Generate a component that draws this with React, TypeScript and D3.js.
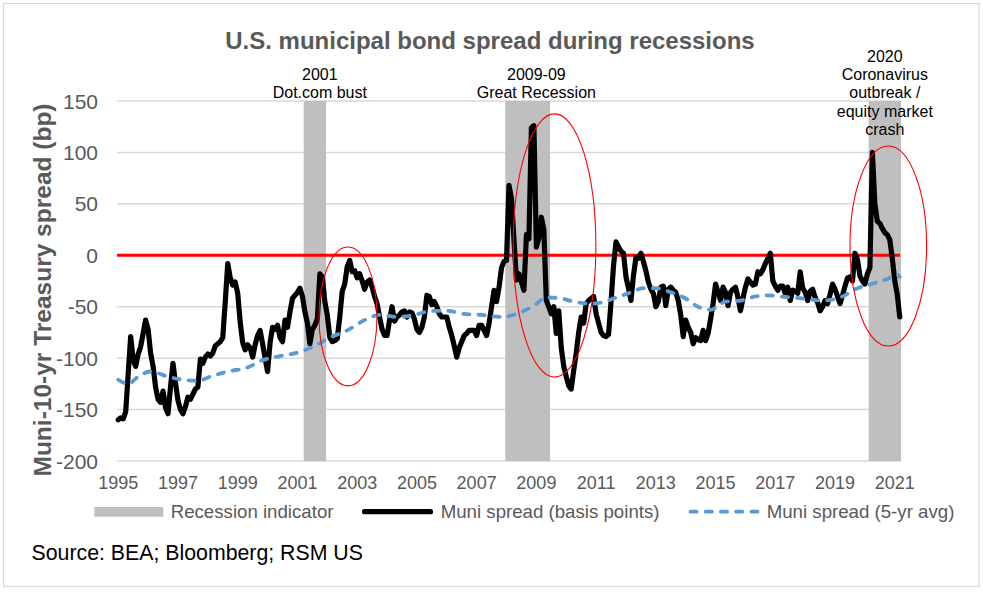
import React from 'react';
import * as d3 from 'd3';

// Monthly muni-10yr Treasury spread (bp), starting Jan 1995
const START_YEAR = 1995;
const spreadBp = [
  -160, -158, -159, -152, -115, -79, -102, -108, -96, -89, -76, -63, // 1995
  -72, -95, -108, -128, -140, -143, -132, -148, -154, -128, -105, -124, // 1996
  -141, -150, -154, -147, -138, -140, -135, -130, -128, -101, -105, -99, // 1997
  -96, -98, -95, -88, -86, -84, -80, -45, -8, -22, -29, -26, // 1998
  -37, -65, -85, -92, -87, -90, -99, -87, -78, -73, -86, -100, // 1999
  -113, -85, -70, -72, -68, -80, -84, -63, -70, -55, -42, -39, // 2000
  -36, -32, -40, -55, -66, -86, -72, -68, -62, -18, -21, -45, // 2001
  -58, -80, -84, -83, -81, -60, -35, -28, -11, -5, -16, -15, // 2002
  -22, -18, -25, -33, -26, -24, -31, -40, -47, -60, -72, -78, // 2003
  -78, -63, -50, -64, -60, -58, -55, -54, -60, -55, -56, -62, // 2004
  -72, -75, -70, -60, -39, -40, -48, -45, -50, -57, -60, -60, // 2005
  -60, -70, -78, -88, -99, -90, -84, -78, -76, -73, -73, -73, // 2006
  -78, -68, -68, -73, -78, -66, -50, -34, -45, -31, -12, -6, // 2007
  -5, 68, 55, 15, -24, -18, -26, -34, 20, 16, 124, 126, // 2008
  8, 17, 37, 25, -44, -50, -57, -50, -76, -54, -90, -108, // 2009
  -118, -127, -130, -112, -95, -75, -60, -66, -47, -44, -42, -40, // 2010
  -57, -66, -75, -78, -79, -77, -45, -10, 13, 8, 4, 2, // 2011
  -21, -32, -44, -20, -2, -3, 2, -6, -15, -26, -33, -37, // 2012
  -50, -45, -31, -30, -49, -33, -31, -34, -36, -44, -58, -79, // 2013
  -63, -70, -75, -86, -80, -82, -83, -73, -83, -76, -62, -47, // 2014
  -28, -36, -44, -31, -36, -49, -36, -33, -31, -41, -54, -42, // 2015
  -31, -23, -26, -29, -28, -16, -18, -14, -8, -3, 2, -25, // 2016
  -30, -34, -30, -30, -37, -31, -44, -34, -35, -37, -16, -32, // 2017
  -36, -44, -35, -33, -41, -46, -54, -50, -44, -47, -38, -28, // 2018
  -33, -40, -47, -39, -30, -22, -21, -25, 2, -4, -20, -25, // 2019
  -28, -18, -12, 100, 50, 33, 31, 26, 22, 20, 15, -3, // 2020
  -25, -38, -60, // 2021
];

// 5-yr average (months since Jan 1995, value in bp)
const avgMonth = [0, 4, 8, 13, 20, 26, 32, 37, 44, 52, 58, 65, 73, 79, 85, 92, 99, 105, 112, 119, 126, 132, 139, 146, 154, 162, 167, 172, 178, 183, 190, 194, 199, 206, 211, 216, 222, 228, 233, 238, 244, 250, 256, 261, 266, 271, 275, 283, 291, 297, 304, 309, 313, 314];
const avgBp = [-121, -125, -118, -113, -118, -121, -122, -118, -113, -109, -102, -98, -94, -88, -80, -73, -63, -58, -60, -58, -54, -54, -57, -58, -60, -55, -49, -41, -42, -45, -47, -46, -42, -36, -32, -32, -36, -42, -50, -53, -45, -44, -40, -39, -40, -41, -42, -44, -40, -32, -27, -23, -19, -21];

const recessionStart = ['2001-04', '2008-01', '2020-03'];
const recessionEnd = ['2001-12', '2009-06', '2021-03'];
const recessionTop = 150;

const yTicks = [150, 100, 50, 0, -50, -100, -150, -200];
const xTickYears = [1995, 1997, 1999, 2001, 2003, 2005, 2007, 2009, 2011, 2013, 2015, 2017, 2019, 2021];

const annotationAt = ['2001-10', '2009-01', '2020-09'];
const annotationLines = [
  ['2001', 'Dot.com bust'],
  ['2009-09', 'Great Recession'],
  ['2020', 'Coronavirus', 'outbreak /', 'equity market', 'crash'],
];
const annotationFirstBaseline = [80, 80, 61.7];

// highlight ellipses: centre (month, bp), radii (months, bp)
const ellipseCx = [92.3, 175.3, 309.4];
const ellipseCy = [-59.5, 9.5, 9];
const ellipseRx = [11.65, 16.6, 15.4];
const ellipseRy = [67.5, 128, 97.2];

const legendLabels = ['Recession indicator', 'Muni spread (basis points)', 'Muni spread (5-yr avg)'];

const monthIndex = (s: string) => {
  const [yy, mm] = s.split('-').map(Number);
  return (yy - START_YEAR) * 12 + (mm - 1);
};

const W = 983;
const H = 593;
const FONT = '"Liberation Sans", Arial, sans-serif';
const GREY_TEXT = '#595959';
const LINE_W = 5.2;
const AVG_W = 3.8;
const AVG_DASH = '6.2 9';

export default function App() {
  const n = spreadBp.length;
  const x = d3.scaleLinear().domain([-0.5, n - 0.5]).range([117, 901]);
  const y = d3.scaleLinear().domain([-200, 150]).range([461, 101]);

  const spreadPts = spreadBp.map((v, i) => [i, v] as [number, number]);
  const avgPts = avgMonth.map((m, i) => [m, avgBp[i]] as [number, number]);

  const lineGen = d3
    .line<[number, number]>()
    .x((d) => x(d[0]))
    .y((d) => y(d[1]));
  const avgGen = d3
    .line<[number, number]>()
    .x((d) => x(d[0]))
    .y((d) => y(d[1]))
    .curve(d3.curveMonotoneX);

  const [x0, x1] = x.range();

  return (
    <svg
      width={W}
      height={H}
      style={{ position: 'absolute', left: 0, top: 0, background: '#fff' }}
      fontFamily={FONT}
    >
      <rect x={0} y={0} width={W} height={H} fill="#fff" />
      <rect x={3.5} y={3.5} width={975.5} height={583} fill="none" stroke="#d9d9d9" strokeWidth={1.2} />

      {/* title */}
      <text x={490} y={48.5} textAnchor="middle" fontSize={24} fontWeight="bold" fill={GREY_TEXT}>
        U.S. municipal bond spread during recessions
      </text>

      {/* gridlines */}
      {yTicks.map((t) => (
        <line key={'g' + t} x1={x0} x2={x1} y1={y(t)} y2={y(t)} stroke="#d9d9d9" strokeWidth={1.5} />
      ))}

      {/* recession bands */}
      {recessionStart.map((s, i) => {
        const a = monthIndex(s);
        const b = monthIndex(recessionEnd[i]);
        return (
          <rect
            key={'r' + i}
            x={x(a - 0.5)}
            width={x(b + 0.5) - x(a - 0.5)}
            y={y(recessionTop)}
            height={y(-200) - y(recessionTop)}
            fill="#bfbfbf"
          />
        );
      })}

      {/* y tick labels */}
      {yTicks.map((t) => (
        <text key={'yt' + t} x={98} y={y(t)} dy="0.36em" textAnchor="end" fontSize={21} fill={GREY_TEXT}>
          {t}
        </text>
      ))}

      {/* x tick labels */}
      {xTickYears.map((yr) => (
        <text key={'xt' + yr} x={x((yr - START_YEAR) * 12)} y={489} textAnchor="middle" fontSize={18} fill={GREY_TEXT}>
          {yr}
        </text>
      ))}

      {/* y axis title */}
      <text
        transform={`translate(51,290) rotate(-90)`}
        textAnchor="middle"
        fontSize={24.5}
        fontWeight="bold"
        fill={GREY_TEXT}
      >
        Muni-10-yr Treasury spread (bp)
      </text>

      {/* zero line */}
      <line x1={x0} x2={x(n - 0.5) - 1} y1={y(0)} y2={y(0)} stroke="#ff0000" strokeWidth={3} />

      {/* spread line */}
      <path
        d={lineGen(spreadPts) || ''}
        fill="none"
        stroke="#000"
        strokeWidth={LINE_W}
        strokeLinejoin="round"
        strokeLinecap="round"
      />

      {/* 5-yr avg */}
      <path
        d={avgGen(avgPts) || ''}
        fill="none"
        stroke="#5b9bd5"
        strokeWidth={AVG_W}
        strokeDasharray={AVG_DASH}
        strokeLinecap="round"
      />

      {/* ellipses */}
      {ellipseCx.map((cx, i) => (
        <ellipse
          key={'e' + i}
          cx={x(cx)}
          cy={y(ellipseCy[i])}
          rx={x(cx + ellipseRx[i]) - x(cx)}
          ry={y(ellipseCy[i] - ellipseRy[i]) - y(ellipseCy[i])}
          fill="none"
          stroke="#ff0000"
          strokeWidth={1.1}
        />
      ))}

      {/* annotations */}
      {annotationAt.map((s, i) => (
        <text key={'a' + i} x={x(monthIndex(s))} y={annotationFirstBaseline[i]} textAnchor="middle" fontSize={16} fill="#000">
          {annotationLines[i].map((ln, j) => (
            <tspan key={j} x={x(monthIndex(s))} dy={j === 0 ? 0 : 18.3}>
              {ln}
            </tspan>
          ))}
        </text>
      ))}

      {/* legend */}
      <rect x={94.3} y={507} width={69} height={9.7} fill="#bfbfbf" />
      <text x={170.7} y={517.5} fontSize={18.67} fill={GREY_TEXT}>
        {legendLabels[0]}
      </text>
      <line x1={364.5} x2={430.5} y1={511.7} y2={511.7} stroke="#000" strokeWidth={LINE_W} strokeLinecap="round" />
      <text x={440.7} y={517.5} fontSize={18.67} fill={GREY_TEXT}>
        {legendLabels[1]}
      </text>
      <line
        x1={690.5}
        x2={759}
        y1={511.7}
        y2={511.7}
        stroke="#5b9bd5"
        strokeWidth={AVG_W}
        strokeDasharray={AVG_DASH}
        strokeLinecap="round"
      />
      <text x={766.7} y={517.5} fontSize={18.67} fill={GREY_TEXT}>
        {legendLabels[2]}
      </text>

      {/* source */}
      <text x={31.5} y={560} fontSize={21.3} fill="#000">
        Source: BEA; Bloomberg; RSM US
      </text>
    </svg>
  );
}
